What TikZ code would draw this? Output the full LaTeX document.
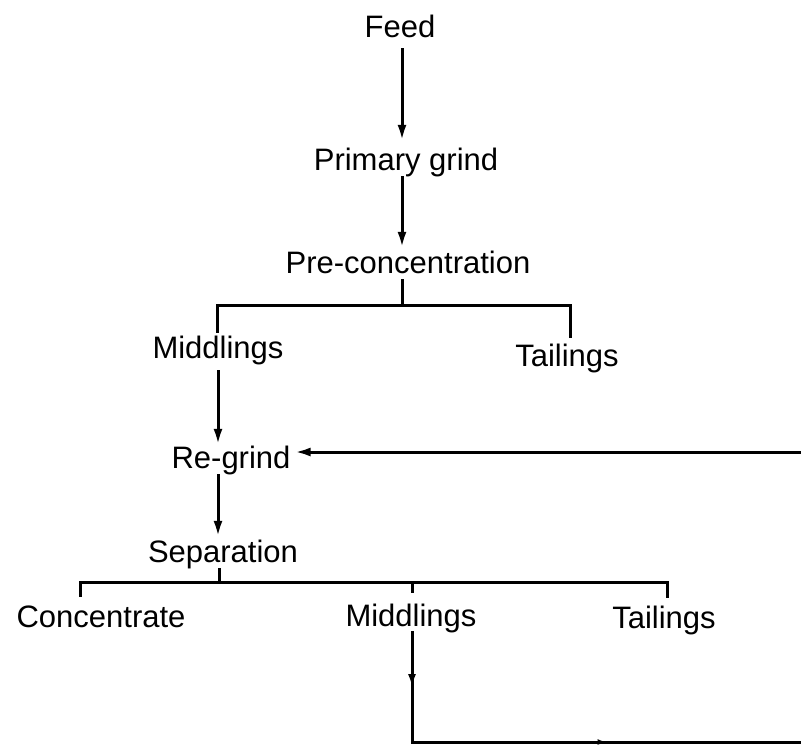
\documentclass[tikz,border=0pt]{standalone}
\usepackage{fontspec}
\setmainfont{Liberation Sans}
\usetikzlibrary{arrows.meta,decorations.markings}
\begin{document}
\begin{tikzpicture}[x=1pt,y=-1pt,
  lbl/.style={inner xsep=4pt, inner ysep=0pt, text height=22pt, text depth=6pt, anchor=base, font=\fontsize{31}{37}\selectfont},
  ln/.style={line width=3pt},
  arr/.style={ln, -{Latex[length=16pt,width=9pt]}},
  midarr/.style={ln, line cap=rect, postaction={decorate}, decoration={markings, mark=at position 0.5 with {\arrow{Latex[length=13pt,width=8pt]}}}},
  smallarr/.style={ln, line cap=rect, postaction={decorate}, decoration={markings, mark=at position 0.5 with {\arrow{Latex[length=9pt,width=6pt]}}}},
]
\useasboundingbox (0,0) rectangle (801,745);

\node[lbl] (feed) at (400,37) {Feed};
\node[lbl] (pg)   at (406,170) {Primary grind};
\node[lbl] (pc)   at (408,273) {Pre-concentration};
\node[lbl] (m1)   at (218,358) {Middlings};
\node[lbl] (t1)   at (567,366) {Tailings};
\node[lbl] (rg)   at (231,468) {Re-grind};
\node[lbl] (sep)  at (223,562) {Separation};
\node[lbl] (conc) at (101,627) {Concentrate};
\node[lbl] (m2)   at (411,626) {Middlings};
\node[lbl] (t2)   at (664,628) {Tailings};

\coordinate (colA) at (402,0);
\coordinate (b1)  at (402,305);
\coordinate (b1l) at (217,305);
\coordinate (b1r) at (570,305);
\coordinate (colB) at (218,0);
\coordinate (rin) at (801,452);
\coordinate (b2)  at (219,582);
\coordinate (b2l) at (80,582);
\coordinate (b2m) at (412,582);
\coordinate (b2r) at (667,582);
\coordinate (bend) at (412,742);
\coordinate (rout) at (801,742);

\draw[arr, shorten <=5pt, shorten >=7pt] (feed.south -| colA) -- (pg.north -| colA);
\draw[arr, shorten >=3pt] (pg.south -| colA) -- (pc.north -| colA);
\draw[ln] (pc.south -| colA) -- (b1);
\draw[ln, shorten <=3pt, shorten >=6pt] (b1l |- m1.north) -- (b1l) -- (b1r) -- (b1r |- t1.north);
\draw[arr, shorten <=6pt, shorten >=1pt] (m1.south -| colB) -- (rg.north -| colB);
\draw[arr, shorten >=3pt] (rg.south -| colB) -- (sep.north -| colB);
\draw[arr] (rin) -- (rin -| rg.east);
\draw[ln] (sep.south -| b2) -- (b2);
\draw[ln, shorten <=8pt, shorten >=8pt] (b2l |- conc.north) -- (b2l) -- (b2r) -- (b2r |- t2.north);
\draw[ln, shorten >=11pt] (b2m) -- (b2m |- m2.north);
\draw[midarr] (m2.south -| bend) -- (bend);
\draw[smallarr] (bend) -- (rout);
\end{tikzpicture}
\end{document}
